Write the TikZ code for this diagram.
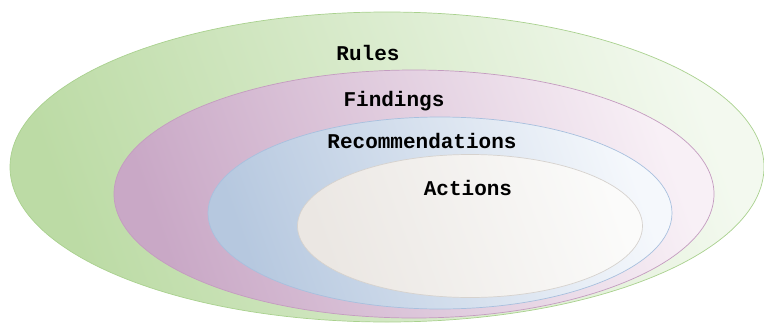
\documentclass[tikz,border=0pt]{standalone}
\usepackage{fontspec}
\setmonofont{Liberation Mono}
\usepackage{xcolor}
\definecolor{RuleEdge}{HTML}{A9D18E}
\definecolor{RuleDark}{HTML}{BCDBA5}
\definecolor{RuleLight}{HTML}{F3F9EF}
\definecolor{FindEdge}{HTML}{C49CC0}
\definecolor{FindDark}{HTML}{C9A8C6}
\definecolor{FindLight}{HTML}{F8F0F6}
\definecolor{RecEdge}{HTML}{A8C0DE}
\definecolor{RecDark}{HTML}{B6C8DF}
\definecolor{RecLight}{HTML}{F5F8FC}
\definecolor{ActEdge}{HTML}{D6D2CE}
\definecolor{ActDark}{HTML}{EBE7E3}
\definecolor{ActLight}{HTML}{FBFBFA}
\usepackage{tikz}
\usetikzlibrary{shapes.geometric}

\begin{document}
\begin{tikzpicture}[x=1pt,y=-1pt]
\tikzset{
  ring/.style={ellipse,inner sep=0pt,line width=.7pt},
  glow/.style 2 args={bottom color=#1,top color=#2,shading angle=-70},
  ringlabel/.style={anchor=base,font=\fontsize{21}{24}\selectfont\ttfamily\bfseries,text=black}
}
\useasboundingbox (0,0) rectangle (764,322);

% four nested levels, outermost first; light towards the upper right
\node[ring,draw=RuleEdge,glow={RuleDark}{RuleLight},minimum width=754pt,minimum height=310pt] (rules) at (387,167) {};
\node[ring,draw=FindEdge,glow={FindDark}{FindLight},minimum width=600pt,minimum height=248pt] (findings) at (414,194) {};
\node[ring,draw=RecEdge,glow={RecDark}{RecLight},minimum width=464pt,minimum height=192pt] (recs) at (440,213) {};
\node[ring,draw=ActEdge,glow={ActDark}{ActLight},minimum width=345pt,minimum height=143pt] (actions) at (470,226) {};

\node[ringlabel] (rulesLbl) at (368,60) {Rules};
\node[ringlabel] (findingsLbl) at (394,106) {Findings};
\node[ringlabel] (recsLbl) at (422,148) {Recommendations};
\node[ringlabel] (actionsLbl) at (468,195) {Actions};
\end{tikzpicture}
\end{document}
